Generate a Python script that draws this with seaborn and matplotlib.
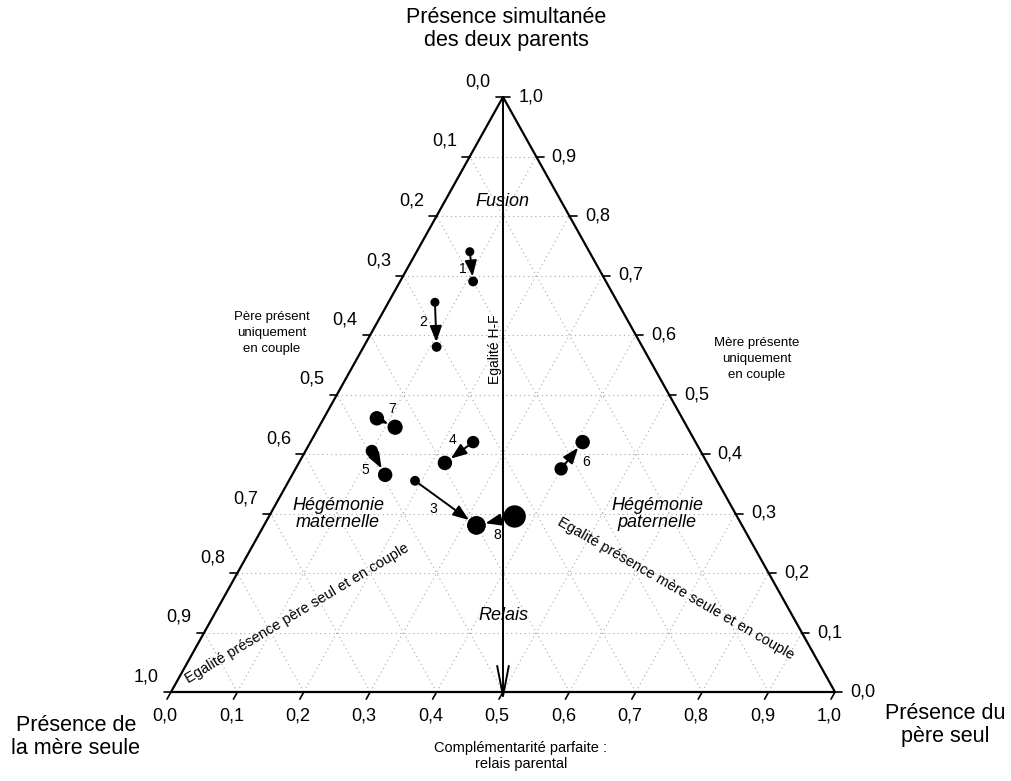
import matplotlib
matplotlib.use("Agg")
import matplotlib.pyplot as plt
import seaborn as sns
import numpy as np

# --- data: trajectories of the 8 cases (mother alone / father alone / both parents)
case_ids = ['1', '2', '3', '4', '5', '6', '7', '8']
mother_start = [0.18, 0.275, 0.455, 0.335, 0.495, 0.225, 0.46, 0.335]
father_start = [0.08, 0.07, 0.19, 0.245, 0.10, 0.40, 0.08, 0.37]
both_start = [0.74, 0.655, 0.355, 0.42, 0.405, 0.375, 0.46, 0.295]
mother_end = [0.20, 0.31, 0.40, 0.395, 0.495, 0.17, 0.44, 0.40]
father_end = [0.11, 0.11, 0.32, 0.22, 0.14, 0.41, 0.115, 0.32]
both_end = [0.69, 0.58, 0.28, 0.385, 0.365, 0.42, 0.445, 0.28]
weight_start = [42, 42, 50, 80, 80, 92, 108, 260]
weight_end = [50, 50, 175, 108, 108, 108, 120, 175]

tick_values = [0.0, 0.1, 0.2, 0.3, 0.4, 0.5, 0.6, 0.7, 0.8, 0.9, 1.0]

sns.set_theme(style='white')
plt.rcParams['font.family'] = ['Liberation Sans', 'DejaVu Sans']
plt.rcParams['text.color'] = 'black'

W, H = 1011, 781
X0, X1, YB, YT = 171, 835, 692, 97  # triangle frame in pixels


def tern(father, both):
    father = np.asarray(father, dtype=float)
    both = np.asarray(both, dtype=float)
    return father + both / 2, both


def px(x, y):
    return (x - X0) / (X1 - X0), (YB - y) / (YB - YT)


fig = plt.figure(figsize=(W / 100, H / 100), dpi=100)
ax = fig.add_axes([0, 0, 1, 1])
ax.set_xlim(px(0, 0)[0], px(W, 0)[0])
ax.set_ylim(px(0, H)[1], px(0, 0)[1])
ax.axis('off')

# grid
grid_kw = dict(color='#a8a8a8', lw=0.8, ls=(0, (1, 3)), zorder=1)
for v in tick_values[1:-1]:
    ax.plot(*tern([0, 1 - v], [v, v]), **grid_kw)
    ax.plot(*tern([v, v], [0, 1 - v]), **grid_kw)
    ax.plot(*tern([1 - v, 0], [0, 1 - v]), **grid_kw)

# triangle frame
tx, ty = tern([0, 1, 0, 0], [0, 0, 1, 0])
ax.plot(tx, ty, color='black', lw=1.6, zorder=3)

# ticks and tick labels
lab_kw = dict(textcoords='offset points', ha='center', va='center', fontsize=13)
for v in tick_values:
    lbl = f'{v:.1f}'.replace('.', ',')
    # bottom: father alone
    bx, by = tern(v, 0)
    ax.plot([bx, bx - 0.006], [by, by - 0.012], color='black', lw=1.2, zorder=3)
    ax.annotate(lbl, (bx, by), xytext=(-6 * 0.72, -24 * 0.72), **lab_kw)
    # right: both parents
    rx, ry = tern(1 - v, v)
    ax.plot([rx, rx + 0.011], [ry, ry], color='black', lw=1.2, zorder=3)
    ax.annotate(lbl, (rx, ry), xytext=(28 * 0.72, 0), **lab_kw)
    # left: mother alone
    lx, ly = tern(0, 1 - v)
    ax.plot([lx, lx - 0.011], [ly, ly], color='black', lw=1.2, zorder=3)
    ax.annotate(lbl, (lx, ly), xytext=(-25 * 0.72, 15 * 0.72), **lab_kw)

# equality H-F vertical arrow
ax.annotate('', xy=(0.5, px(0, 701)[1]), xytext=tern(0, 1),
            arrowprops=dict(arrowstyle='->,head_length=1.8,head_width=0.35',
                            color='black', lw=1.4, shrinkA=0, shrinkB=0), zorder=4)

# trajectories
xs, ys = tern(father_start, both_start)
xe, ye = tern(father_end, both_end)
for i in range(len(case_ids)):
    r_end = np.sqrt(weight_end[i]) / 2
    ax.annotate('', xy=(xe[i], ye[i]), xytext=(xs[i], ys[i]),
                arrowprops=dict(arrowstyle='-|>,head_length=0.8,head_width=0.3',
                                color='black', lw=1.4, shrinkA=0, shrinkB=r_end),
                zorder=5)

sns.scatterplot(x=xs, y=ys, s=weight_start, color='black', edgecolor='none',
                ax=ax, legend=False, zorder=6)
sns.scatterplot(x=xe, y=ye, s=weight_end, color='black', edgecolor='none',
                ax=ax, legend=False, zorder=6)

label_offsets = [(-7, 17), (-12, 20), (18, 28), (-21, -2), (-7, 19), (25, -7), (15, -9), (-17, 19)]
for i, cid in enumerate(case_ids):
    dx, dy = label_offsets[i]
    ax.annotate(cid, (xs[i], ys[i]), xytext=(dx * 0.72, -dy * 0.72),
                textcoords='offset points', ha='center', va='center', fontsize=10)

# zone names
zone_kw = dict(ha='center', va='center', fontsize=13, style='italic', linespacing=1.0)
ax.text(*px(502, 202), 'Fusion', **zone_kw)
ax.text(*px(338, 514), 'Hégémonie\nmaternelle', **zone_kw)
ax.text(*px(657, 514), 'Hégémonie\npaternelle', **zone_kw)
ax.text(*px(503, 615), 'Relais', **zone_kw)

ax.text(*px(495, 349), 'Egalité H-F', rotation=90, ha='center', va='center', fontsize=10)
ax.text(*px(297, 613), 'Egalité présence père seul et en couple', rotation=31,
        rotation_mode='anchor', ha='center', va='center', fontsize=10.5)
ax.text(*px(676, 589), 'Egalité présence mère seule et en couple', rotation=-30,
        rotation_mode='anchor', ha='center', va='center', fontsize=10.5)

ax.text(*px(272, 333), 'Père présent\nuniquement\nen couple', ha='center', va='center',
        fontsize=9.5, linespacing=1.4)
ax.text(*px(757, 359), 'Mère présente\nuniquement\nen couple', ha='center', va='center',
        fontsize=9.5, linespacing=1.4)

# axis titles
title_kw = dict(ha='center', va='center', fontsize=15.5, linespacing=1.1)
ax.text(*px(506, 29), 'Présence simultanée\ndes deux parents', **title_kw)
ax.text(*px(76, 737), 'Présence de\nla mère seule', **title_kw)
ax.text(*px(945, 725), 'Présence du\npère seul', **title_kw)
ax.text(*px(521, 756), 'Complémentarité parfaite :\nrelais parental', ha='center',
        va='center', fontsize=10.5, linespacing=1.1)

fig.savefig('out.png', dpi=100)
